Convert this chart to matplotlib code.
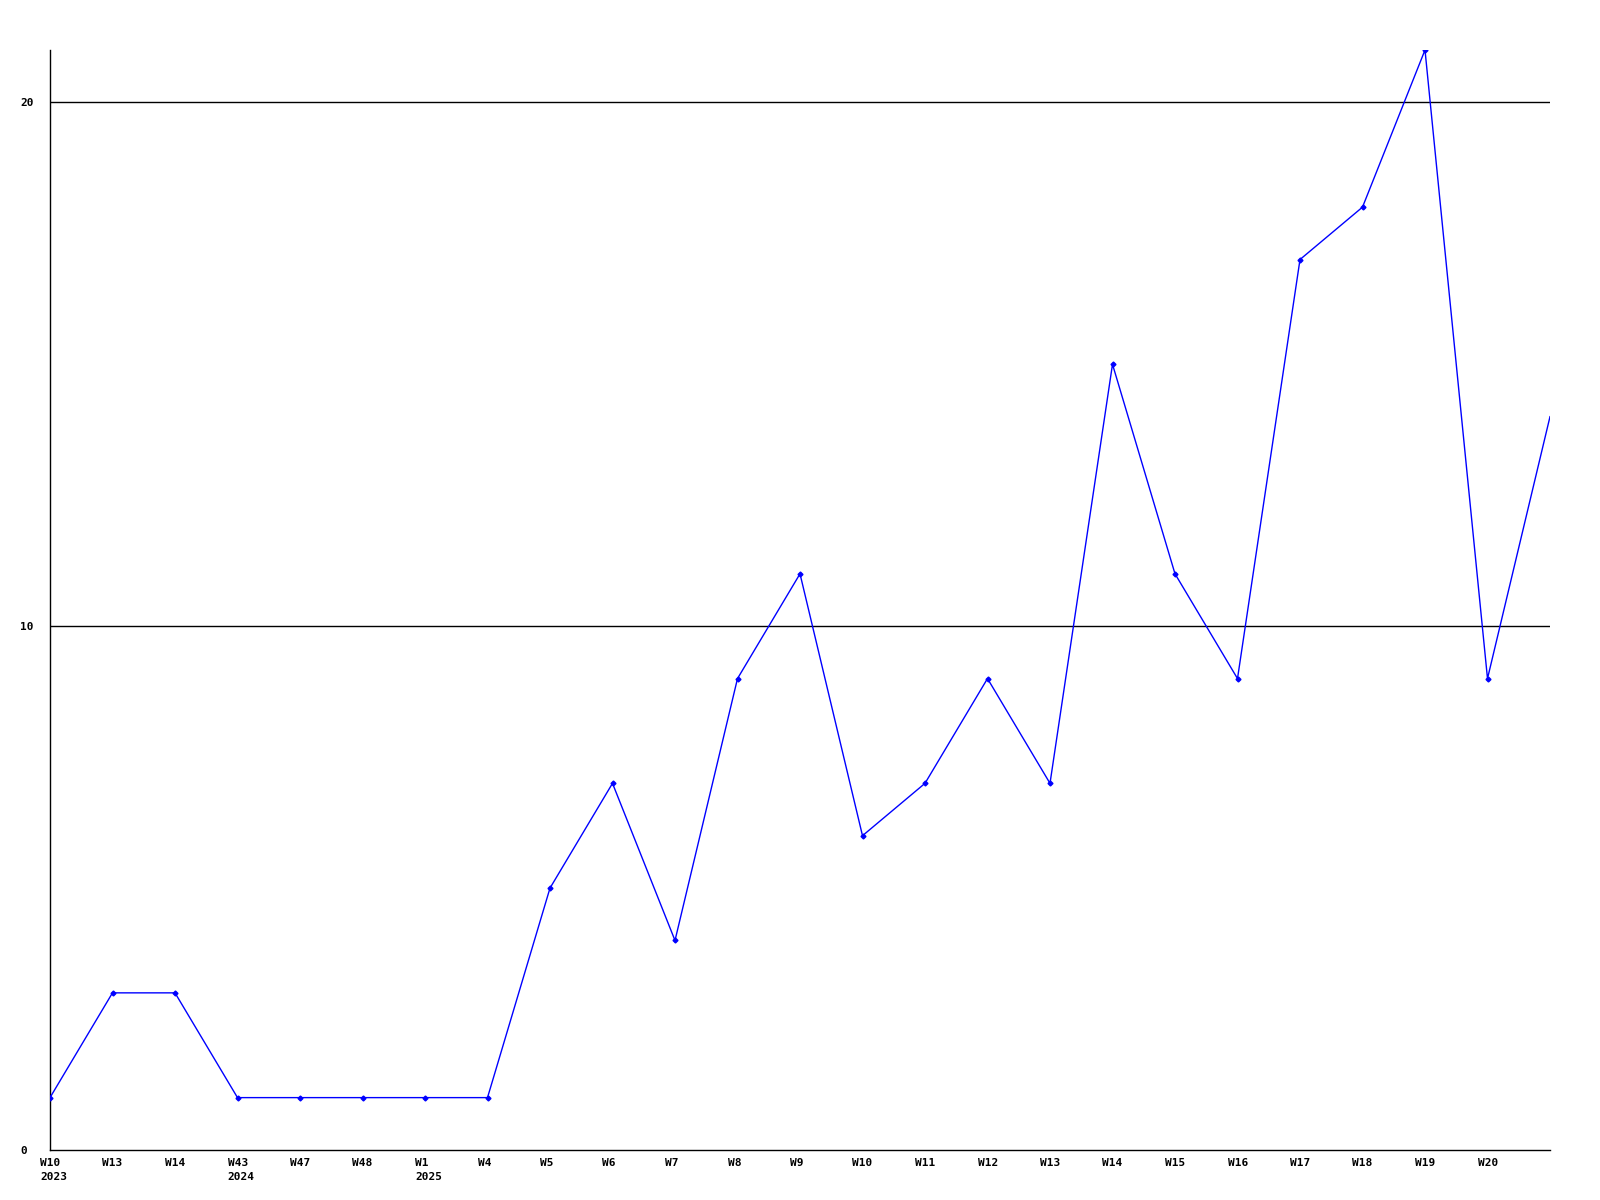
import matplotlib
matplotlib.use("Agg")
import matplotlib.pyplot as plt
import matplotlib.transforms as mtransforms

weeks = ["W10", "W13", "W14", "W43", "W47", "W48", "W1", "W4", "W5", "W6", "W7", "W8",
         "W9", "W10", "W11", "W12", "W13", "W14", "W15", "W16", "W17", "W18", "W19", "W20"]
years = ["2023", "", "", "2024", "", "", "2025", "", "", "", "", "",
         "", "", "", "", "", "", "", "", "", "", "", ""]
values = [1, 3, 3, 1, 1, 1, 1, 1, 5, 7, 4, 9, 11, 6, 7, 9, 7, 15, 11, 9, 17, 18, 21, 9, 14]
yticks = [0, 10, 20]

fig = plt.figure(figsize=(16, 12), dpi=100)
ax = fig.add_axes([50/1600, 50/1200, 1500/1600, 1100/1200])

xs = list(range(len(values)))
ax.plot(xs, values, color="#0000ff", lw=1.0, zorder=3)
ax.plot(xs[:len(weeks)], values[:len(weeks)], linestyle="none", marker="D",
        markersize=2.5, color="#0000ff", zorder=4)

ax.set_xlim(0, len(values) - 1)
ax.set_ylim(0, 21)

for y in yticks[1:]:
    ax.axhline(y, color="black", lw=1.0, zorder=1)

for s in ["top", "right"]:
    ax.spines[s].set_visible(False)
for s in ["left", "bottom"]:
    ax.spines[s].set_linewidth(1.0)

ax.set_yticks(yticks)
ax.set_yticklabels([str(v) for v in yticks], fontfamily="DejaVu Sans Mono",
                   fontweight="bold", fontsize=8, ha="left")
ax.tick_params(axis="y", length=0, pad=21.6)

ax.set_xticks(xs[:len(weeks)])
labels = [w + ("\n" + y if y else "") for w, y in zip(weeks, years)]
ax.set_xticklabels(labels, fontfamily="DejaVu Sans Mono", fontweight="bold",
                   fontsize=8, ha="left", va="top", linespacing=1.5)
ax.tick_params(axis="x", length=0, pad=6)
offset = mtransforms.ScaledTranslation(-10/100, 0, fig.dpi_scale_trans)
for lab in ax.get_xticklabels():
    lab.set_transform(lab.get_transform() + offset)

fig.savefig("out.png", dpi=100, facecolor="white")
